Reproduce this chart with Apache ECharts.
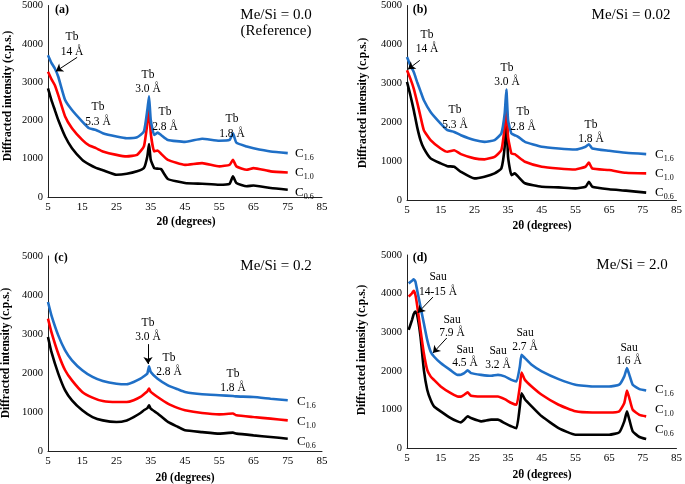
<!DOCTYPE html>
<html>
<head>
<meta charset="utf-8">
<script src="https://cdn.jsdelivr.net/npm/echarts@6/dist/echarts.min.js"></script>
<style>
	html, body { margin: 0; padding: 0; background: #fff; }
	#chart { width: 685px; height: 484px; }
</style>
</head>
<body>
<div id="chart"></div>
<script>
// 2-theta positions, with the three curves per panel
var degA = [5, 6, 7, 8, 10, 12, 15, 17, 19, 21, 25, 28, 31, 33, 34, 34.5, 35, 36, 37, 38, 40, 45, 50, 55, 58, 59, 60, 63, 65, 70, 75];
var aC16 = [3700, 3500, 3355, 3140, 2530, 2270, 1970, 1795, 1750, 1665, 1580, 1535, 1560, 1710, 2270, 2630, 2010, 1620, 1680, 1620, 1490, 1440, 1520, 1470, 1490, 1665, 1420, 1320, 1275, 1190, 1145];
var aC10 = [3270, 3080, 2920, 2660, 2100, 1795, 1490, 1345, 1275, 1190, 1100, 1060, 1100, 1320, 1925, 2360, 1665, 1190, 1215, 1130, 970, 840, 885, 800, 840, 970, 800, 710, 755, 670, 640];
var aC06 = [2835, 2530, 2270, 2010, 1580, 1275, 970, 850, 760, 700, 580, 605, 670, 755, 1060, 1385, 970, 755, 740, 730, 470, 365, 345, 320, 345, 540, 365, 280, 300, 235, 190];

var degB = [5, 6, 7, 8, 9, 10, 12, 15, 17, 19, 21, 25, 28, 31, 33, 34, 34.5, 35, 36, 37, 38, 40, 45, 50, 55, 58, 59, 60, 65, 70, 76];
var bC16 = [3675, 3460, 3290, 3035, 2800, 2565, 2265, 1965, 1795, 1750, 1665, 1540, 1495, 1540, 1710, 2225, 2840, 2050, 1710, 1665, 1625, 1495, 1370, 1325, 1300, 1370, 1435, 1325, 1265, 1215, 1180];
var bC10 = [3335, 3120, 2865, 2520, 2150, 1795, 1540, 1325, 1240, 1280, 1180, 1070, 1045, 1110, 1280, 1880, 2435, 1625, 1195, 1180, 1110, 985, 855, 810, 785, 855, 960, 810, 770, 700, 685];
var bC06 = [3035, 2695, 2310, 1880, 1540, 1325, 1070, 940, 870, 855, 725, 555, 600, 685, 810, 1370, 2180, 1110, 640, 685, 600, 430, 340, 325, 300, 340, 470, 340, 275, 240, 190];

var degC = [5, 6, 8, 10, 12, 15, 18, 21, 25, 28, 30, 32, 33, 34, 34.5, 35, 37, 40, 43, 45, 50, 55, 59, 60, 65, 70, 75];
var cC16 = [3820, 3480, 2965, 2580, 2325, 2070, 1900, 1795, 1725, 1710, 1770, 1855, 1915, 1985, 2170, 2025, 1855, 1685, 1580, 1515, 1455, 1430, 1410, 1400, 1385, 1340, 1300];
var cC10 = [3395, 3050, 2495, 2070, 1810, 1515, 1370, 1280, 1255, 1255, 1300, 1385, 1455, 1530, 1600, 1515, 1385, 1215, 1100, 1045, 975, 940, 960, 915, 870, 830, 785];
var cC06 = [2925, 2540, 1985, 1555, 1300, 1045, 870, 785, 745, 785, 870, 975, 1045, 1100, 1170, 1085, 960, 745, 615, 530, 485, 445, 470, 445, 400, 360, 315];

var degD = [5.5, 6.5, 7, 7.5, 8, 9, 10, 11, 12, 13, 15, 18, 20, 21, 22, 23, 24, 27, 30, 32, 34, 36, 37.5, 38.5, 39, 40, 42, 45, 50, 55, 60, 65, 68, 69.5, 70.3, 71, 72, 74, 76];
var dC16 = [4265, 4335, 4370, 4310, 4095, 3665, 3230, 2800, 2500, 2370, 2200, 2010, 1895, 1900, 1940, 2010, 1940, 1895, 1870, 1895, 1855, 1765, 1725, 2110, 2415, 2330, 2155, 1985, 1785, 1640, 1595, 1595, 1640, 1855, 2070, 1895, 1640, 1525, 1490];
var dC10 = [3920, 4010, 4075, 3965, 3705, 3060, 2455, 2025, 1855, 1765, 1595, 1420, 1335, 1330, 1380, 1440, 1355, 1335, 1335, 1335, 1265, 1165, 1120, 1595, 1955, 1765, 1595, 1380, 1120, 950, 920, 920, 950, 1165, 1490, 1295, 990, 860, 820];
var dC06 = [3060, 3320, 3470, 3535, 3450, 2890, 2025, 1510, 1250, 1080, 950, 775, 690, 665, 735, 820, 775, 690, 735, 735, 645, 560, 515, 1080, 1420, 1265, 1080, 820, 515, 345, 345, 345, 405, 690, 950, 735, 430, 285, 235];

var panelTitles = ['Me/Si = 0.0', 'Me/Si = 0.02', 'Me/Si = 0.2', 'Me/Si = 2.0'];
var sampleNames = ['1.6', '1.0', '0.6'];

var SERIF = '"Liberation Serif", "Times New Roman", serif';
var COLORS = ['#1f6fc6', '#ff0000', '#000000'];

var grids = [
	{ left: 48, top: 5, width: 274, height: 192 },
	{ left: 407, top: 5, width: 271, height: 195 },
	{ left: 48, top: 256, width: 274, height: 195 },
	{ left: 407, top: 255, width: 271, height: 193 }
];

var panels = [
	{ deg: degA, curves: [aC16, aC10, aC06] },
	{ deg: degB, curves: [bC16, bC10, bC06] },
	{ deg: degC, curves: [cC16, cC10, cC06] },
	{ deg: degD, curves: [dC16, dC10, dC06] }
];

// arrows, in data units of each panel [from, to]
var arrows = [
	[[[13.5, 3646], [7.3, 3281]]],
	[[[8.8, 3590], [5.3, 3360]]],
	[[[34.2, 2740], [34.2, 2230]]],
	[[[12.7, 3910], [8.2, 3500]], [[16.8, 2850], [12.7, 2460]]]
];

function pairs(xs, ys) {
	return xs.map(function (x, i) { return [x, ys[i]]; });
}

var xAxes = [], yAxes = [], series = [];
grids.forEach(function (g, i) {
	xAxes.push({
		gridIndex: i, type: 'value', min: 5, max: 85, interval: 10,
		axisLine: { lineStyle: { color: '#222', width: 1 } },
		axisTick: { show: false },
		splitLine: { show: false },
		axisLabel: { color: '#000', fontFamily: SERIF, fontSize: 11, margin: 5 }
	});
	yAxes.push({
		gridIndex: i, type: 'value', min: 0, max: 5000, interval: 1000,
		axisLine: { show: true, lineStyle: { color: '#222', width: 1 } },
		axisTick: { show: false },
		splitLine: { show: false },
		axisLabel: {
			color: '#000', fontFamily: SERIF, fontSize: 10.5, margin: 5,
			formatter: function (v) { return String(v); }
		}
	});
	// draw black first so blue sits on top
	[2, 1, 0].forEach(function (k) {
		var s = {
			type: 'line',
			xAxisIndex: i, yAxisIndex: i,
			data: pairs(panels[i].deg, panels[i].curves[k]),
			showSymbol: false,
			smooth: 0.15,
			lineStyle: { color: COLORS[k], width: 2.6 },
			itemStyle: { color: COLORS[k] },
			animation: false,
			z: 3
		};
		if (k === 0) {
			s.markLine = {
				silent: true,
				symbol: ['none', 'arrow'],
				symbolSize: 7,
				label: { show: false },
				lineStyle: { color: '#000', width: 1, type: 'solid' },
				animation: false,
				data: arrows[i].map(function (a) {
					return [{ coord: a[0] }, { coord: a[1] }];
				})
			};
		}
		series.push(s);
	});
});

function txt(x, y, text, size, extra) {
	var st = {
		text: text, x: 0, y: 0,
		font: (extra && extra.bold ? 'bold ' : '') + size + 'px ' + SERIF,
		fill: '#000', textAlign: 'center', textVerticalAlign: 'middle',
		lineHeight: extra && extra.lh ? extra.lh : size + 3
	};
	return { type: 'text', x: x, y: y, rotation: extra && extra.rot ? extra.rot : 0, style: st, z: 10 };
}

function sample(x, y, name) {
	return {
		type: 'text', x: x, y: y, z: 10,
		style: {
			text: '{c|C}{s|' + name + '}',
			textAlign: 'left', textVerticalAlign: 'middle',
			rich: {
				c: { fontFamily: SERIF, fontSize: 13, fill: '#000' },
				s: { fontFamily: SERIF, fontSize: 8, fill: '#000', padding: [7, 0, 0, 0] }
			}
		}
	};
}

var NOTE = 11.5;
var AXT = 11.5;

var graphics = [
	// panel (a)
	txt(62, 10, '(a)', 12, { bold: true }),
	txt(276, 15, panelTitles[0], 15),
	txt(276, 31, '(Reference)', 15),
	txt(72, 44, 'Tb\n14 Å', NOTE, { lh: 15 }),
	txt(98, 114, 'Tb\n5.3 Å', NOTE, { lh: 15 }),
	txt(148, 82, 'Tb\n3.0 Å', NOTE, { lh: 14 }),
	txt(165, 119, 'Tb\n2.8 Å', NOTE, { lh: 15 }),
	txt(232, 126, 'Tb\n1.8 Å', NOTE, { lh: 15 }),
	sample(295, 154, sampleNames[0]),
	sample(295, 173, sampleNames[1]),
	sample(295, 193, sampleNames[2]),
	txt(186, 222, '2θ (degrees)', AXT, { bold: true }),
	txt(8, 96, 'Diffracted intensity (c.p.s.)', AXT, { bold: true, rot: Math.PI / 2 }),
	// panel (b)
	txt(420, 10, '(b)', 12, { bold: true }),
	txt(631, 15, panelTitles[1], 15),
	txt(427, 42, 'Tb\n14 Å', NOTE, { lh: 14 }),
	txt(455, 117, 'Tb\n5.3 Å', NOTE, { lh: 15 }),
	txt(507, 75, 'Tb\n3.0 Å', NOTE, { lh: 14 }),
	txt(523, 119, 'Tb\n2.8 Å', NOTE, { lh: 15 }),
	txt(591, 132, 'Tb\n1.8 Å', NOTE, { lh: 14 }),
	sample(655, 155, sampleNames[0]),
	sample(655, 174, sampleNames[1]),
	sample(655, 193, sampleNames[2]),
	txt(542, 226, '2θ (degrees)', AXT, { bold: true }),
	txt(363, 103, 'Diffracted intensity (c.p.s.)', AXT, { bold: true, rot: Math.PI / 2 }),
	// panel (c)
	txt(61, 258, '(c)', 12, { bold: true }),
	txt(276, 266, panelTitles[2], 15),
	txt(148, 330, 'Tb\n3.0 Å', NOTE, { lh: 14 }),
	txt(169, 365, 'Tb\n2.8 Å', NOTE, { lh: 14 }),
	txt(233, 381, 'Tb\n1.8 Å', NOTE, { lh: 14 }),
	sample(297, 402, sampleNames[0]),
	sample(297, 422, sampleNames[1]),
	sample(297, 442, sampleNames[2]),
	txt(185, 478, '2θ (degrees)', AXT, { bold: true }),
	txt(6, 353, 'Diffracted intensity (c.p.s.)', AXT, { bold: true, rot: Math.PI / 2 }),
	// panel (d)
	txt(420, 258, '(d)', 12, { bold: true }),
	txt(632, 265, panelTitles[3], 15),
	txt(438, 284, 'Sau\n14-15 Å', NOTE, { lh: 15 }),
	txt(452, 326, 'Sau\n7.9 Å', NOTE, { lh: 13 }),
	txt(465, 356, 'Sau\n4.5 Å', NOTE, { lh: 13 }),
	txt(498, 358, 'Sau\n3.2 Å', NOTE, { lh: 14 }),
	txt(525, 340, 'Sau\n2.7 Å', NOTE, { lh: 14 }),
	txt(629, 354, 'Sau\n1.6 Å', NOTE, { lh: 13 }),
	sample(655, 390, sampleNames[0]),
	sample(655, 410, sampleNames[1]),
	sample(655, 430, sampleNames[2]),
	txt(542, 475, '2θ (degrees)', AXT, { bold: true }),
	txt(362, 350, 'Diffracted intensity (c.p.s.)', AXT, { bold: true, rot: Math.PI / 2 })
];

var chart = echarts.init(document.getElementById('chart'));
chart.setOption({
	backgroundColor: '#fff',
	animation: false,
	grid: grids,
	xAxis: xAxes,
	yAxis: yAxes,
	series: series,
	graphic: graphics
});
</script>
</body>
</html>
